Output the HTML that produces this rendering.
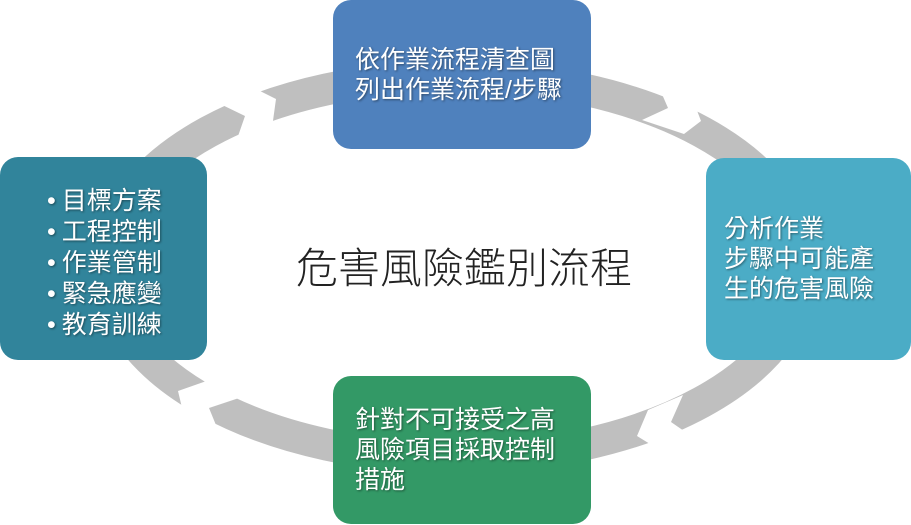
<!DOCTYPE html>
<html><head><meta charset="utf-8"><style>
body{margin:0;width:911px;height:525px;background:#fff;overflow:hidden;position:relative;font-family:"Liberation Sans","Noto Sans CJK TC",sans-serif}
.b{position:absolute;border-radius:18px;color:#fff;font-size:25px;line-height:30px;text-shadow:1px 1px 2px rgba(0,0,0,.45);box-sizing:border-box}
.b i{font-style:normal;margin-right:6px}
.t{position:absolute;left:296px;top:243px;font-size:42px;line-height:52px;color:#222;white-space:nowrap;font-weight:300}
</style></head><body>
<svg width="911" height="525" style="position:absolute;left:0;top:0">
<ellipse cx="455" cy="267" rx="349" ry="191" fill="none" stroke="#bfbfbf" stroke-width="32"/>
<polygon fill="#fff" points="212,100 245,116 236,142 272,128 276,99 248,85"/>
<polygon fill="#fff" points="655,78 668,108 642,120 684,134 701,121 690,92"/>
<polygon fill="#fff" points="683,395 671,422 697,440 663,452 637,436 648,410"/>
<polygon fill="#fff" points="215,378 178,391 183,412 218,430 209,408 245,396"/>
</svg>
<div class="b" style="left:333px;top:0;width:258px;height:149px;background:#4f81bd;padding:45px 0 0 22px">依作業流程清查圖<br>列出作業流程/步驟</div>
<div class="b" style="left:706px;top:158px;width:205px;height:202px;background:#4bacc6;padding:56px 0 0 18px">分析作業<br>步驟中可能產<br>生的危害風險</div>
<div class="b" style="left:333px;top:376px;width:258px;height:148px;background:#339966;padding:29px 0 0 22px">針對不可接受之高<br>風險項目採取控制<br>措施</div>
<div class="b" style="left:0;top:157px;width:207px;height:203px;background:#31849b;padding:29px 0 0 47px;line-height:31px"><i>•</i>目標方案<br><i>•</i>工程控制<br><i>•</i>作業管制<br><i>•</i>緊急應變<br><i>•</i>教育訓練</div>
<div class="t">危害風險鑑別流程</div>
</body></html>
